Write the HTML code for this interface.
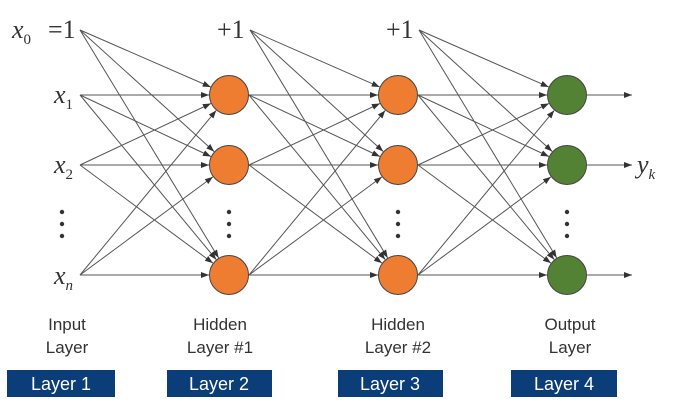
<!DOCTYPE html>
<html><head><style>body{margin:0;background:#fff}svg{display:block}</style></head><body>
<svg width="676" height="409" xmlns="http://www.w3.org/2000/svg">
<defs><marker id="a" markerWidth="8" markerHeight="6" refX="8" refY="3" orient="auto" markerUnits="userSpaceOnUse"><path d="M0,0L8,3L0,6z" fill="#333"/></marker></defs>
<g stroke="#555" stroke-width="1" marker-end="url(#a)" id="e"></g>
<g font-family="Liberation Serif,serif" font-style="italic" font-size="26" fill="#333">
<text x="12" y="38">x<tspan font-size="15" dy="6" font-style="normal">0</tspan></text>
<text x="48" y="38" font-style="normal">=1</text>
<text x="54" y="103">x<tspan font-size="15" dy="6" font-style="normal">1</tspan></text>
<text x="54" y="173">x<tspan font-size="15" dy="6" font-style="normal">2</tspan></text>
<text x="54" y="284">x<tspan font-size="15" dy="6">n</tspan></text>
<text x="217" y="38" font-style="normal">+1</text>
<text x="386" y="38" font-style="normal">+1</text>
<text x="637" y="173">y<tspan font-size="15" dy="6">k</tspan></text>
</g>
<g fill="#333">
<circle cx="62" cy="212" r="2.2"/><circle cx="62" cy="224" r="2.2"/><circle cx="62" cy="236" r="2.2"/>
<circle cx="229" cy="212" r="2.2"/><circle cx="229" cy="224" r="2.2"/><circle cx="229" cy="236" r="2.2"/>
<circle cx="398" cy="212" r="2.2"/><circle cx="398" cy="224" r="2.2"/><circle cx="398" cy="236" r="2.2"/>
<circle cx="567" cy="212" r="2.2"/><circle cx="567" cy="224" r="2.2"/><circle cx="567" cy="236" r="2.2"/>
</g>
<g id="n" stroke="#444" stroke-width="1"></g>
<g font-family="Liberation Sans,sans-serif" font-size="17" fill="#333" text-anchor="middle">
<text x="67" y="330">Input</text><text x="67" y="353">Layer</text>
<text x="220" y="330">Hidden</text><text x="220" y="353">Layer #1</text>
<text x="398" y="330">Hidden</text><text x="398" y="353">Layer #2</text>
<text x="570" y="330">Output</text><text x="570" y="353">Layer</text>
</g>
<g fill="#0b3d78"><rect x="7" y="370" width="108" height="27"/><rect x="167" y="370" width="105" height="27"/><rect x="338" y="370" width="105" height="27"/><rect x="511" y="370" width="106" height="27"/></g>
<g font-family="Liberation Sans,sans-serif" font-size="18" fill="#fff" text-anchor="middle">
<text x="61" y="390">Layer 1</text><text x="219" y="390">Layer 2</text><text x="390" y="390">Layer 3</text><text x="564" y="390">Layer 4</text>
</g>
</svg>
<script>
var ys=[95,165,275],e=document.getElementById('e'),n=document.getElementById('n'),S='http://www.w3.org/2000/svg';
function L(x1,y1,x2,y2){var l=document.createElementNS(S,'line');l.setAttribute('x1',x1);l.setAttribute('y1',y1);l.setAttribute('x2',x2);l.setAttribute('y2',y2);e.appendChild(l);}
function layer(sx,bx,bias,tx){var src=[[bx,bias]].concat(ys.map(function(y){return[sx,y]}));src.forEach(function(s){ys.forEach(function(y){var dx=tx-s[0],dy=y-s[1],d=Math.hypot(dx,dy);L(s[0],s[1],tx-20*dx/d,y-20*dy/d);});});}
layer(80,80,30,229);layer(249,250,30,398);layer(418,419,30,567);
ys.forEach(function(y){L(587,y,632,y);});
[[229,'#ee7d31'],[398,'#ee7d31'],[567,'#548235']].forEach(function(c){ys.forEach(function(y){var k=document.createElementNS(S,'circle');k.setAttribute('cx',c[0]);k.setAttribute('cy',y);k.setAttribute('r',19.5);k.setAttribute('fill',c[1]);n.appendChild(k);});});
</script>
</body></html>
